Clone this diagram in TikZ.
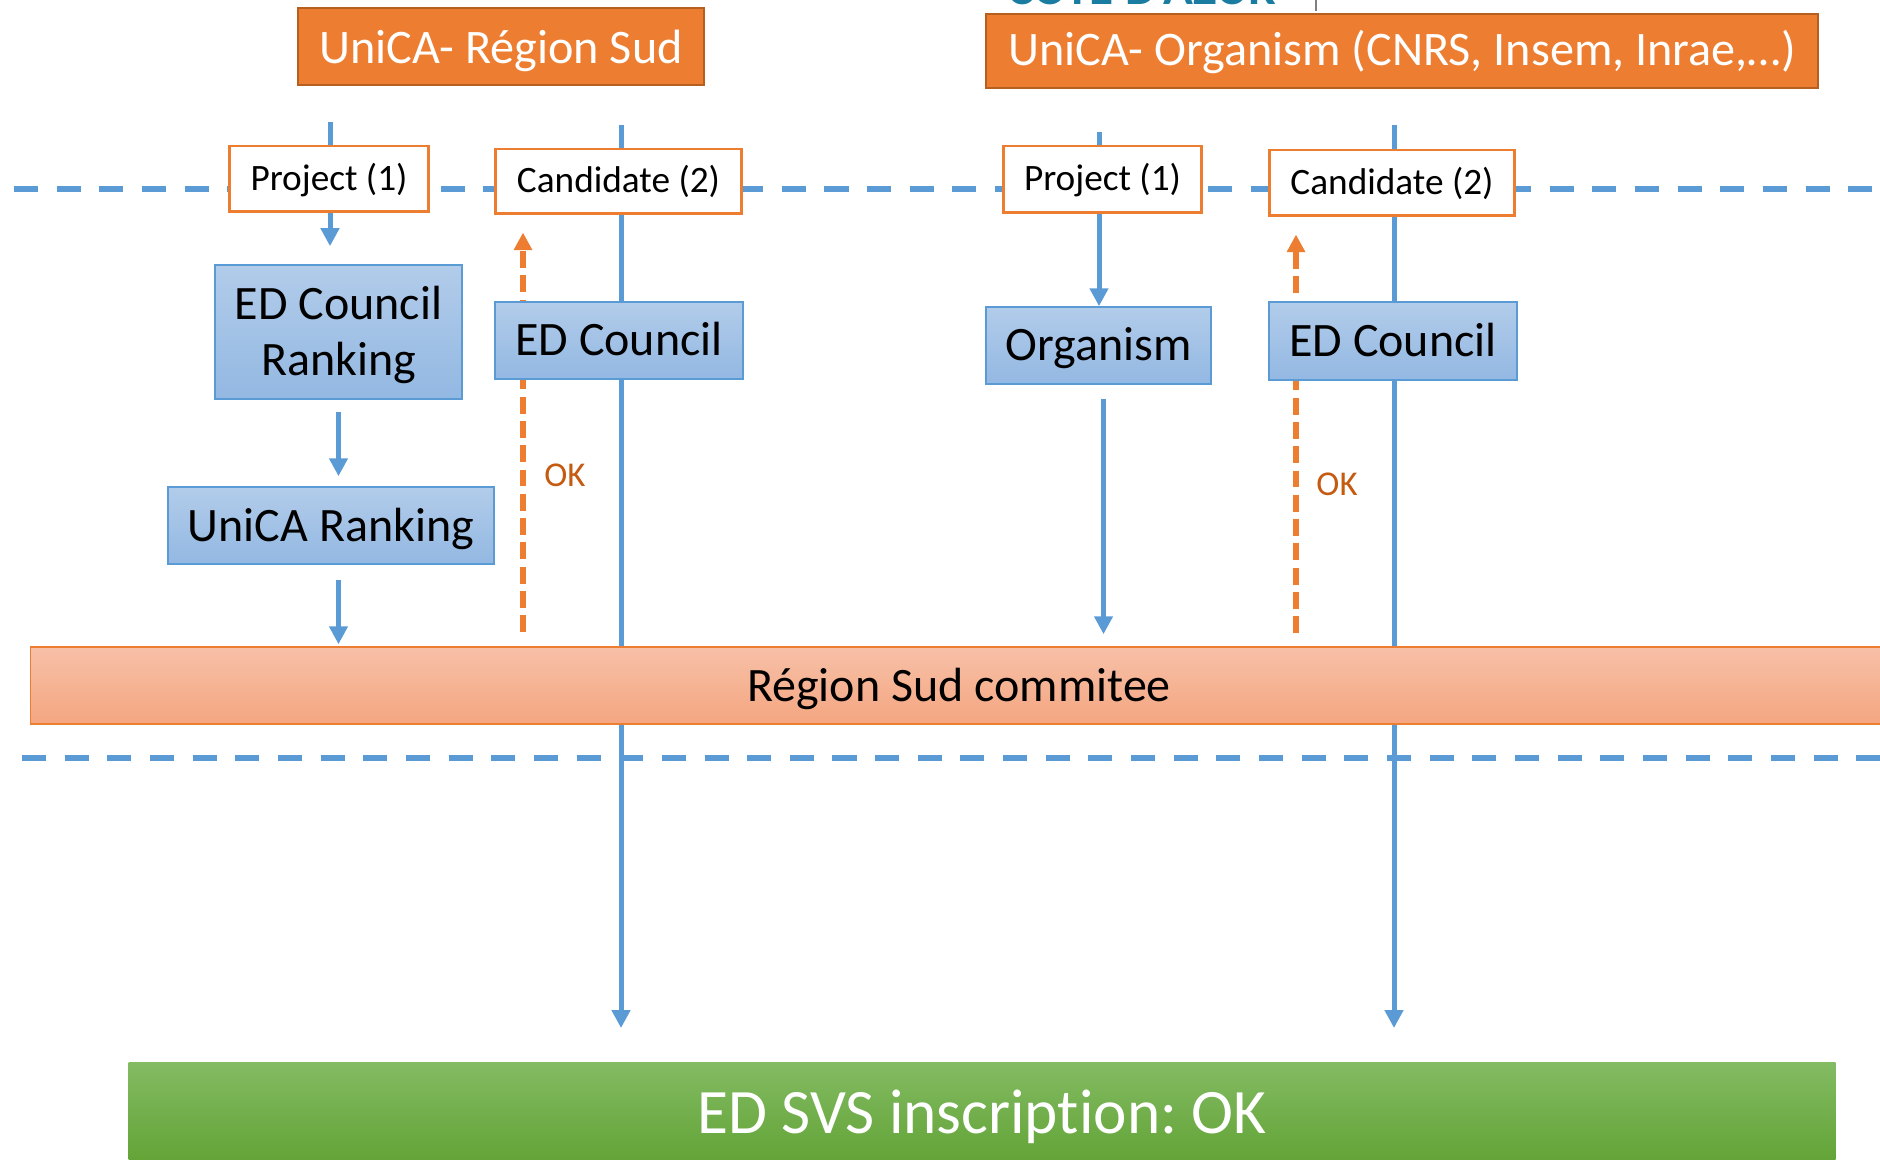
\documentclass[tikz,border=0pt]{standalone}
\usepackage{fontspec}
\setmainfont{Carlito}[Ligatures=NoCommon]
\frenchspacing
\usetikzlibrary{calc,arrows.meta,positioning,backgrounds}

\definecolor{offorange}{HTML}{ED7D31}
\definecolor{hdrline}{HTML}{B6601F}
\definecolor{offblue}{HTML}{5B9BD5}
\definecolor{stagetop}{HTML}{B2CCEA}
\definecolor{stagebot}{HTML}{93B8E2}
\definecolor{comtop}{HTML}{F7C0A8}
\definecolor{combot}{HTML}{F4A680}
\definecolor{restop}{HTML}{83BB63}
\definecolor{resbot}{HTML}{62A335}
\definecolor{okorange}{HTML}{C55A11}
\definecolor{logoteal}{HTML}{1A7CA0}

\begin{document}
\begin{tikzpicture}[x=0.01cm,y=-0.01cm,>=Triangle,inner sep=0pt,every node/.style={font=\small}]
      % Styles
      \tikzset{head/.style={draw=hdrline,line width=0.6pt,fill=offorange,text=white,text height=8.5pt,text depth=0pt,font=\fontsize{13.7}{16}\selectfont},
               tag/.style={draw=offorange,line width=0.85pt,fill=white,text height=6.8pt,text depth=0pt,font=\fontsize{10.6}{12.6}\selectfont},
               stage/.style={draw=offblue,line width=0.45pt,top color=stagetop,bottom color=stagebot,align=center,text height=8.8pt,text depth=0pt,font=\fontsize{13.65}{16}\selectfont},
               committee/.style={draw=offorange,line width=0.45pt,top color=comtop,bottom color=combot,text height=8.8pt,text depth=0pt,font=\fontsize{13.65}{16}\selectfont},
               result/.style={top color=restop,bottom color=resbot,text=white,text height=11.6pt,text depth=0pt,font=\fontsize{18}{21}\selectfont},
               oklabel/.style={text=okorange,font=\fontsize{9.9}{12}\selectfont},
               lane/.style={offblue,line width=1.7pt,dash pattern=on 6.83pt off 5.3pt},
               track/.style={offblue,line width=1.42pt},
               flow/.style={-{Triangle[width=5.1pt,length=5.1pt]},offblue,line width=1.42pt},
               reply/.style={-{Triangle[width=5pt,length=5pt]},offorange,line width=1.55pt,dash pattern=on 4.8pt off 2.1pt}}

      \useasboundingbox (0,0) rectangle (1880,1159);

      % Logo remnant at the top edge
      \node[anchor=base,text=logoteal,font=\fontsize{14}{14}\bfseries\selectfont] (logo) at (1142,4) {CÔTE D'AZUR};
      \draw[gray,line width=0.6pt] (1316,0) -- (1316,11);

      % Headers
      \node[head,minimum width=4.06cm,minimum height=0.77cm,text height=9.85pt] (hdrSud) at (501,46.5) {UniCA- Région Sud};
      \node[head,minimum width=8.32cm,minimum height=0.74cm] (hdrOrg) at (1402,51) {UniCA- Organism (CNRS, Insem, Inrae,…)};

      % Project / candidate tags
      \node[tag,minimum width=1.98cm,minimum height=0.65cm] (projSud) at (329,178.5) {Project (1)};
      \node[tag,minimum width=2.45cm,minimum height=0.64cm] (candSud) at (618.5,181) {Candidate (2)};
      \node[tag,minimum width=1.97cm,minimum height=0.66cm] (projOrg) at (1102.5,179) {Project (1)};
      \node[tag,minimum width=2.44cm,minimum height=0.65cm] (candOrg) at (1392,182.5) {Candidate (2)};

      % Blue stages
      \node[stage,minimum width=2.47cm,minimum height=1.34cm,text height=24.8pt] (rankED) at (338.5,332) {ED Council\\Ranking};
      \node[stage,minimum width=3.26cm,minimum height=0.77cm] (rankUni) at (331,525.5) {UniCA Ranking};
      \node[stage,minimum width=2.48cm,minimum height=0.77cm] (councilSud) at (619,340.5) {ED Council};
      \node[stage,minimum width=2.25cm,minimum height=0.77cm] (organism) at (1098.5,345.5) {Organism};
      \node[stage,minimum width=2.48cm,minimum height=0.78cm] (councilOrg) at (1393,341) {ED Council};

      % Committee and result bars
      \node[committee,minimum width=18.56cm,minimum height=0.77cm] (committee) at (959,685.5) {Région Sud commitee};
      \node[result,minimum width=17.06cm,minimum height=1.02cm] (result) at (982,1113) {ED SVS inscription: OK};

      % OK labels
      \node[oklabel] (okSud) at (565,475) {OK};
      \node[oklabel] (okOrg) at (1337,484) {OK};

      % Free ends of the tracks
      \coordinate (topSud) at (330,122);
      \coordinate (topCandSud) at (621,125);
      \coordinate (endCandSud) at (621,1028);
      \coordinate (okBaseSud) at (523,632);
      \coordinate (topOrg) at (1099,132);
      \coordinate (topCandOrg) at (1394,125);
      \coordinate (endCandOrg) at (1394,1028);
      \coordinate (okBaseOrg) at (1296,633);

      \begin{pgfonlayer}{background}
        % Lane separators
        \draw[lane] (14,189) -- (1880,189);
        \draw[lane] (22,758) -- (1880,758);

        % Région Sud lane
        \draw[track] (topSud) -- (topSud |- projSud.north);
        \draw[flow,shorten >=0.18cm] (projSud.south -| topSud) -- (rankED.north -| topSud);
        \draw[flow,shorten <=0.12cm,shorten >=0.1cm] (rankED.south) -- (rankED.south |- rankUni.north);
        \draw[flow,shorten <=0.15cm,shorten >=0.02cm] (rankED.south |- rankUni.south) -- (rankED.south |- committee.north);
        \draw[flow] (topCandSud) -- (endCandSud);
        \draw[reply,shorten >=0.18cm] (okBaseSud) -- (okBaseSud |- candSud.south);

        % Organism lane
        \draw[track] (topOrg) -- (topOrg |- projOrg.north);
        \draw[flow] (projOrg.south -| topOrg) -- (organism.north -| topOrg);
        \draw[flow,shorten <=0.14cm,shorten >=0.12cm] ($(organism.south)+(5,0)$) -- ($(organism.south |- committee.north)+(5,0)$);
        \draw[flow] (topCandOrg) -- (endCandOrg);
        \draw[reply,shorten >=0.18cm] (okBaseOrg) -- (okBaseOrg |- candOrg.south);
      \end{pgfonlayer}
    \end{tikzpicture}
\end{document}
